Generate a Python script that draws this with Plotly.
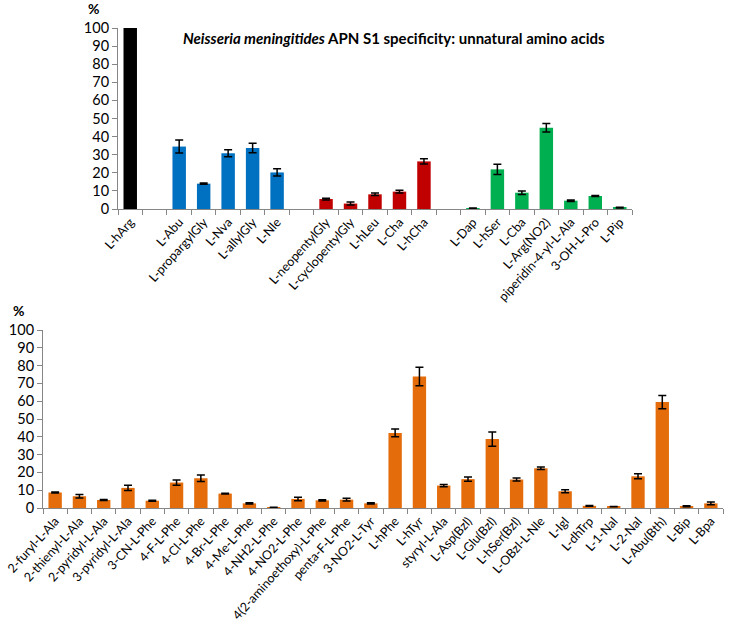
import plotly.graph_objects as go

# ---------------- data ----------------
top_categories = ["L-hArg", " ", "L-Abu", "L-propargylGly", "L-Nva", "L-allylGly", "L-Nle", "  ",
                  "L-neopentylGly", "L-cyclopentylGly", "L-hLeu", "L-Cha", "L-hCha", "   ",
                  "L-Dap", "L-hSer", "L-Cba", "L-Arg(NO2)", "piperidin-4-yl-L-Ala", "3-OH-L-Pro", "L-Pip"]
top_names = ["L-hArg", "L-Abu", "L-propargylGly", "L-Nva", "L-allylGly", "L-Nle",
             "L-neopentylGly", "L-cyclopentylGly", "L-hLeu", "L-Cha", "L-hCha",
             "L-Dap", "L-hSer", "L-Cba", "L-Arg(NO2)", "piperidin-4-yl-L-Ala", "3-OH-L-Pro", "L-Pip"]
top_values = [100, 34.5, 14.0, 30.8, 33.7, 20.2,
              5.5, 3.0, 8.1, 9.6, 26.3,
              0.3, 21.9, 9.0, 44.9, 4.6, 7.2, 0.7]
top_errors = [0, 3.6, 0.3, 2.0, 2.6, 2.0,
              0.5, 0.8, 0.7, 0.8, 1.5,
              0.2, 2.8, 1.0, 2.3, 0.4, 0.3, 0.2]
top_groups = ["ref", "blue", "blue", "blue", "blue", "blue",
              "red", "red", "red", "red", "red",
              "green", "green", "green", "green", "green", "green", "green"]

bottom_names = ["2-furyl-L-Ala", "2-thienyl-L-Ala", "2-pyridyl-L-Ala", "3-pyridyl-L-Ala", "3-CN-L-Phe",
                "4-F-L-Phe", "4-Cl-L-Phe", "4-Br-L-Phe", "4-Me-L-Phe", "4-NH2-L-Phe", "4-NO2-L-Phe",
                "4(2-aminoethoxy)-L-Phe", "penta-F-L-Phe", "3-NO2-L-Tyr", "L-hPhe", "L-hTyr",
                "styryl-L-Ala", "L-Asp(Bzl)", "L-Glu(Bzl)", "L-hSer(Bzl)", "L-OBzl-L-Nle", "L-Igl",
                "L-dhTrp", "L-1-Nal", "L-2-Nal", "L-Abu(Bth)", "L-Bip", "L-Bpa"]
bottom_values = [8.7, 6.6, 4.5, 11.3, 4.1, 14.3, 16.7, 8.1, 2.6, 0.3, 5.1, 4.3, 4.7, 2.6,
                 42.2, 73.9, 12.6, 16.2, 38.7, 16.0, 22.3, 9.4, 1.2, 0.8, 17.8, 59.5, 1.0, 2.6]
bottom_errors = [0.3, 1.0, 0.3, 1.5, 0.3, 1.5, 1.8, 0.2, 0.3, 0.1, 1.0, 0.3, 0.8, 0.3,
                 2.2, 5.2, 0.6, 1.2, 4.0, 0.8, 0.7, 0.8, 0.2, 0.1, 1.4, 3.7, 0.3, 0.8]

group_colors = {"ref": "#000000", "blue": "#0070C0", "red": "#C00000", "green": "#00B050"}
bottom_color = "#E46C0A"

title_html = "<i>Neisseria meningitides</i> APN S1 specificity: unnatural amino acids"

# ---------------- figure ----------------
W, H = 729, 639
FONT = "Lato, 'Open Sans', sans-serif"
AXIS_COLOR = "#868686"

fig = go.Figure()

fig.add_trace(go.Bar(
    x=top_names, y=top_values,
    marker=dict(color=[group_colors[g] for g in top_groups], line=dict(width=0)),
    error_y=dict(type="data", array=top_errors, color="black", thickness=1.5, width=4),
    xaxis="x", yaxis="y", showlegend=False,
))

fig.add_trace(go.Bar(
    x=bottom_names, y=bottom_values,
    marker=dict(color=bottom_color, line=dict(width=0)),
    error_y=dict(type="data", array=bottom_errors, color="black", thickness=1.5, width=4),
    xaxis="x2", yaxis="y2", showlegend=False,
))

def px_x(v):
    return v / W

def px_y(v):
    return 1 - v / H

axis_common = dict(showline=True, linecolor=AXIS_COLOR, linewidth=1,
                   ticks="outside", tickcolor=AXIS_COLOR, ticklen=5,
                   showgrid=False, zeroline=False, automargin=False)

fig.update_layout(
    width=W, height=H,
    margin=dict(l=0, r=0, t=0, b=0, autoexpand=False),
    paper_bgcolor="white", plot_bgcolor="white",
    font=dict(family=FONT, color="black"),
    bargap=0.45,
    xaxis=dict(domain=[px_x(118), px_x(632)], anchor="y", type="category",
               categoryorder="array", categoryarray=top_categories,
               tickson="boundaries", tickangle=-48, tickfont=dict(size=12.5),
               **axis_common),
    yaxis=dict(domain=[px_y(209), px_y(28)], anchor="x", range=[0, 100],
               dtick=10, tickfont=dict(size=14.5), **axis_common),
    xaxis2=dict(domain=[px_x(43), px_x(723)], anchor="y2", type="category",
                categoryorder="array", categoryarray=bottom_names,
                tickson="boundaries", tickangle=-48, tickfont=dict(size=12.5),
                **axis_common),
    yaxis2=dict(domain=[px_y(508), px_y(330)], anchor="x2", range=[0, 100],
                dtick=10, tickfont=dict(size=14.5), **axis_common),
    annotations=[
        dict(text=title_html, xref="paper", yref="paper", x=px_x(394), y=px_y(38),
             xanchor="center", yanchor="middle", showarrow=False,
             font=dict(size=15, weight="bold")),
        dict(text="%", xref="paper", yref="paper", x=px_x(93), y=px_y(19),
             xanchor="center", yanchor="bottom", showarrow=False,
             font=dict(size=14, weight="bold")),
        dict(text="%", xref="paper", yref="paper", x=px_x(18), y=px_y(321),
             xanchor="center", yanchor="bottom", showarrow=False,
             font=dict(size=14, weight="bold")),
    ],
)

fig.write_html("out.html", config={"displayModeBar": False},
               post_script="document.body.style.margin='0';")
